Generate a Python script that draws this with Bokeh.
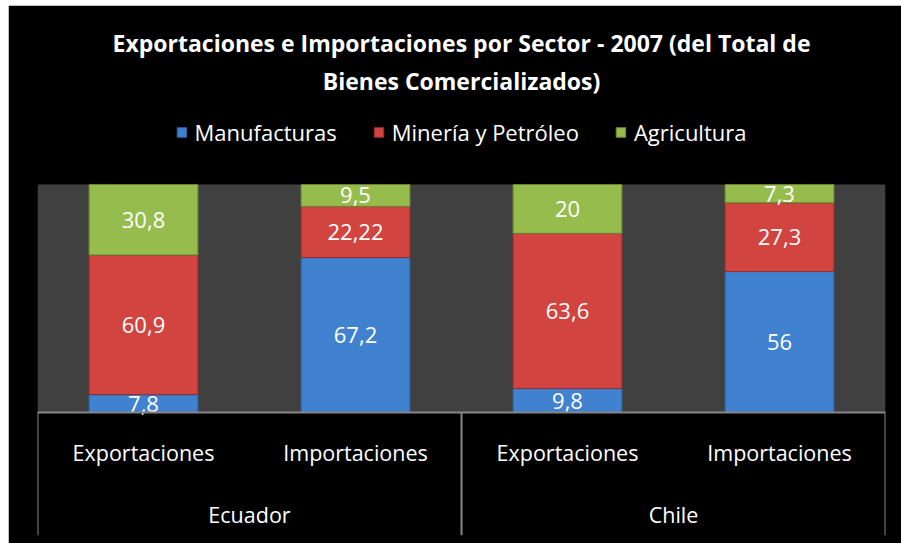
import numpy as np
from bokeh.plotting import figure
from bokeh.models import ColumnDataSource, Range1d, Legend, LegendItem, Title
from bokeh.core.properties import value
from bokeh.embed import file_html
from bokeh.resources import INLINE

# ---- data ----
countries = ["Ecuador", "Ecuador", "Chile", "Chile"]
flows = ["Exportaciones", "Importaciones", "Exportaciones", "Importaciones"]
groups = ["Ecuador", "Chile"]
series = ["Manufacturas", "Minería y Petróleo", "Agricultura"]
manufacturas = [7.8, 67.2, 9.8, 56]
mineria = [60.9, 22.22, 63.6, 27.3]
agricultura = [30.8, 9.5, 20, 7.3]
title_lines = ["Exportaciones e Importaciones por Sector - 2007 (del Total de",
               "Bienes Comercializados)"]

colors = ["#4081D0", "#D24440", "#97BC4E"]
edge_colors = ["#2E5C96", "#8E2E2B", "#67822F"]

FONT = "Open Sans"

vals = np.array([manufacturas, mineria, agricultura], dtype=float)
totals = vals.sum(axis=0)
shares = vals / totals * 100.0
n = len(flows)
x = np.arange(n) + 0.5

keys = ["s0", "s1", "s2"]
data = {"x": x}
for k, s in zip(keys, shares):
    data[k] = s
src = ColumnDataSource(data)

# page geometry (absolute px): figure origin (8,5); plot area 0..100 spans y 412..184
ox, oy = 8, 5
px_per_unit = (412 - 184) / 100.0
frame_top_abs = 100
y_top = 100 + (184 - frame_top_abs) / px_per_unit
y_bot = -(535 - 412) / px_per_unit

p = figure(width=901 - ox, height=543 - oy, x_range=Range1d(0, n), y_range=Range1d(y_bot, y_top),
           output_backend="svg", toolbar_location=None,
           x_axis_location=None, y_axis_location=None,
           background_fill_color="black", border_fill_color="black",
           outline_line_color="black", outline_line_width=3, outline_line_alpha=1.0,
           min_border_left=37 - ox, min_border_right=901 - 885,
           min_border_top=frame_top_abs - oy, min_border_bottom=543 - 535)
p.margin = (oy, 0, 0, ox)
p.xgrid.visible = False
p.ygrid.visible = False
p.title.visible = False

# plot area background (0..100 %)
p.quad(left=[0], right=[n], bottom=[0], top=[100], fill_color="#404040", line_color=None)

renderers = p.vbar_stack(keys, x="x", width=0.514, source=src, color=colors,
                         line_color=edge_colors, line_width=1)

# data labels
bottoms = np.vstack([np.zeros(n), np.cumsum(shares, axis=0)[:-1]])
for i in range(3):
    mids = bottoms[i] + shares[i] / 2
    labels = [f"{v:g}".replace(".", ",") for v in vals[i]]
    p.text(x=x, y=mids, text=labels, text_align="center", text_baseline="middle",
           text_color="white", text_font=value(FONT), text_font_size="22px")

# category axis drawn in the lower band: axis line + group separators
axis_color = "#868686"
bounds = [0]
for g in groups:
    bounds.append(bounds[-1] + countries.count(g))
p.rect(x=[n / 2], y=[0], width=[n], height=[2], height_units="screen",
       fill_color=axis_color, line_color=None)
p.rect(x=bounds, y=[y_bot / 2] * len(bounds), width=[2] * len(bounds), width_units="screen",
       height=[-y_bot] * len(bounds), fill_color=axis_color, line_color=None)
p.text(x=x, y=[-17.5] * n, text=flows, text_align="center", text_baseline="middle",
       text_color="white", text_font=value(FONT), text_font_size="21.5px")
gx = [(bounds[i] + bounds[i + 1]) / 2 for i in range(len(groups))]
p.text(x=gx, y=[-44.7] * len(groups), text=groups, text_align="center", text_baseline="middle",
       text_color="white", text_font=value(FONT), text_font_size="21.5px")

# legend
legend = Legend(items=[LegendItem(label=s, renderers=[r]) for s, r in zip(series, renderers)],
                location="top_center", orientation="horizontal",
                background_fill_color="black", background_fill_alpha=1.0,
                border_line_color=None, label_text_color="white",
                label_text_font=FONT, label_text_font_size="22px",
                glyph_width=12, glyph_height=12, spacing=36, padding=0, margin=17,
                label_standoff=7)
p.add_layout(legend)

# titles (inner first)
for line, so in zip(reversed(title_lines), [7, 1]):
    p.add_layout(Title(text=line, align="center", text_color="white", text_font=FONT,
                       text_font_size="23px", text_font_style="bold", standoff=so), "above")

open("out.html", "w").write(file_html(p, INLINE))
